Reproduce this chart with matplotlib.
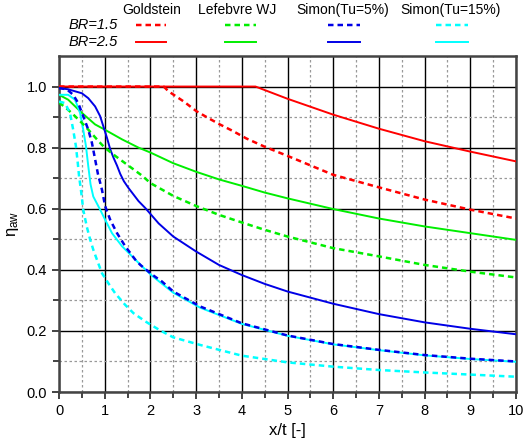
import matplotlib
matplotlib.use("Agg")
import matplotlib.pyplot as plt
from matplotlib.lines import Line2D
import numpy as np

plt.rcParams['font.family'] = ['Liberation Sans', 'DejaVu Sans']
plt.rcParams['mathtext.fontset'] = 'custom'
plt.rcParams['mathtext.rm'] = 'Liberation Sans'
plt.rcParams['mathtext.it'] = 'Liberation Sans:italic'

# ---- data ----
gold25_x = [0, 1, 2, 3, 4, 4.3, 5, 6, 7, 8, 9, 10]
gold25_y = [1.0, 1.0, 1.0, 1.0, 1.0, 1.0, 0.96, 0.908, 0.862, 0.821, 0.787, 0.755]
gold15_x = [0, 1, 2, 2.29, 2.4, 2.73, 3.01, 3.3, 3.52, 3.81, 4.1, 4.5, 5, 6, 7, 8, 9, 10]
gold15_y = [1.0, 1.0, 1.0, 1.0, 0.984, 0.951, 0.919, 0.894, 0.876, 0.854, 0.830, 0.803, 0.773, 0.711, 0.670, 0.630, 0.597, 0.568]

lef25_x = [0, 0.2, 0.5, 0.79, 1.0, 1.38, 1.74, 2.0, 2.5, 3.0, 3.5, 4.0, 4.5, 5, 6, 7, 8, 9, 10]
lef25_y = [0.973, 0.957, 0.914, 0.876, 0.859, 0.827, 0.800, 0.784, 0.749, 0.721, 0.696, 0.675, 0.653, 0.634, 0.599, 0.568, 0.542, 0.520, 0.498]
lef15_x = [0, 0.2, 0.35, 0.5, 0.64, 0.86, 1.0, 1.23, 1.52, 1.82, 2.0, 2.5, 3.0, 3.5, 4.0, 4.5, 5, 6, 7, 8, 9, 10]
lef15_y = [0.948, 0.924, 0.903, 0.881, 0.859, 0.822, 0.800, 0.773, 0.741, 0.708, 0.684, 0.642, 0.609, 0.580, 0.555, 0.531, 0.509, 0.471, 0.444, 0.416, 0.394, 0.375]

sim5_25_x = [0, 0.2, 0.5, 0.64, 0.79, 0.9, 0.97, 1.05, 1.12, 1.19, 1.27, 1.34, 1.42, 1.52, 1.74, 1.89, 2.18, 2.5, 3.0, 3.5, 4.0, 4.5, 5, 6, 7, 8, 9, 10]
sim5_25_y = [0.995, 0.991, 0.978, 0.962, 0.935, 0.903, 0.870, 0.832, 0.795, 0.768, 0.741, 0.714, 0.690, 0.668, 0.625, 0.602, 0.552, 0.509, 0.460, 0.416, 0.383, 0.354, 0.329, 0.289, 0.255, 0.228, 0.207, 0.189]
sim5_15_x = [0, 0.17, 0.31, 0.42, 0.53, 0.64, 0.72, 0.79, 0.85, 0.94, 1.01, 1.12, 1.27, 1.45, 1.67, 1.78, 2.04, 2.25, 2.5, 3.09, 4, 5, 6, 7, 8, 9, 10]
sim5_15_y = [0.995, 0.991, 0.973, 0.946, 0.903, 0.859, 0.816, 0.762, 0.715, 0.662, 0.608, 0.564, 0.520, 0.477, 0.433, 0.416, 0.384, 0.362, 0.329, 0.280, 0.225, 0.185, 0.157, 0.138, 0.121, 0.109, 0.100]

sim15_25_x = [0, 0.2, 0.35, 0.46, 0.53, 0.59, 0.64, 0.69, 0.75, 0.90, 1.01, 1.16, 1.38, 1.6, 1.82, 2.04, 2.5, 3.09, 4, 5, 6, 7, 8, 9, 10]
sim15_25_y = [0.973, 0.973, 0.957, 0.914, 0.859, 0.805, 0.740, 0.680, 0.640, 0.597, 0.564, 0.520, 0.477, 0.444, 0.411, 0.380, 0.325, 0.276, 0.223, 0.184, 0.156, 0.137, 0.120, 0.108, 0.099]
sim15_15_x = [0, 0.13, 0.24, 0.31, 0.37, 0.41, 0.44, 0.48, 0.53, 0.61, 0.68, 0.75, 0.83, 0.94, 1.08, 1.23, 1.45, 1.63, 1.89, 2.22, 2.5, 3.09, 4, 5, 6, 7, 8, 9, 10]
sim15_15_y = [0.951, 0.946, 0.914, 0.859, 0.805, 0.751, 0.705, 0.662, 0.597, 0.540, 0.500, 0.466, 0.433, 0.389, 0.356, 0.323, 0.285, 0.258, 0.231, 0.201, 0.179, 0.154, 0.119, 0.097, 0.083, 0.072, 0.064, 0.057, 0.050]

series_names = ['Goldstein', 'Lefebvre WJ', 'Simon(Tu=5%)', 'Simon(Tu=15%)']
colors = ['#ff0000', '#00ee00', '#0000e6', '#00ffff']
row_labels = ['BR=1.5', 'BR=2.5']

fig = plt.figure(figsize=(5.23, 4.46), dpi=100)
ax = fig.add_axes([59/523, 1-392/446, (516-59)/523, (392-56)/446])

dash = (0, (2.2, 1.6))
lw = 1.4
data = [
    (gold15_x, gold15_y, gold25_x, gold25_y),
    (lef15_x, lef15_y, lef25_x, lef25_y),
    (sim5_15_x, sim5_15_y, sim5_25_x, sim5_25_y),
    (sim15_15_x, sim15_15_y, sim15_25_x, sim15_25_y),
]
for (x15, y15, x25, y25), c in zip(data, colors):
    ax.plot(x25, y25, color=c, lw=lw, zorder=3)
    ax.plot(x15, y15, color=c, lw=lw + 0.4, linestyle=dash, zorder=4)

ax.set_xlim(0, 10)
ax.set_ylim(0, 1.1)
ax.set_xticks(np.arange(0, 11, 1))
ax.set_xticks(np.arange(0.5, 10, 1), minor=True)
ax.set_yticks(np.arange(0, 1.01, 0.2))
ax.set_yticklabels(['0.0', '0.2', '0.4', '0.6', '0.8', '1.0'])
ax.set_yticks(np.arange(0.1, 1.1, 0.2), minor=True)
ax.grid(which='major', color='black', lw=1.0, ls='-', zorder=1)
ax.grid(which='minor', color='#999999', lw=0.9, ls=(0, (2, 2)), zorder=1)
ax.set_axisbelow(True)
for s in ax.spines.values():
    s.set_linewidth(1.8)
    s.set_color('#444444')
ax.tick_params(which='both', direction='out', top=False, right=False, labelsize=10.5, width=1.2, color='#222222')
ax.tick_params(which='major', length=5)
ax.tick_params(which='minor', length=4)
ax.set_xlabel('x/t [-]', fontsize=12)
ax.set_ylabel(r'$\mathrm{\eta_{aw}}$', fontsize=12)

# custom legend at the top
hdr_x = [152, 237, 343, 451]
line_x = [(136, 166), (225, 256), (328, 360), (436, 468)]
for name, hx in zip(series_names, hdr_x):
    fig.text(hx/523, 1-10/446, name, ha='center', va='center', fontsize=10)
for lab, yy in zip(row_labels, [25, 42]):
    fig.text(118/523, 1-yy/446, lab, ha='right', va='center', fontsize=10.5, style='italic')
for (x0, x1), c in zip(line_x, colors):
    fig.add_artist(Line2D([x0/523, x1/523], [1-25/446, 1-25/446], color=c, lw=lw + 0.4, linestyle=dash))
    fig.add_artist(Line2D([x0/523, x1/523], [1-42/446, 1-42/446], color=c, lw=lw))

fig.savefig('out.png', dpi=100)
